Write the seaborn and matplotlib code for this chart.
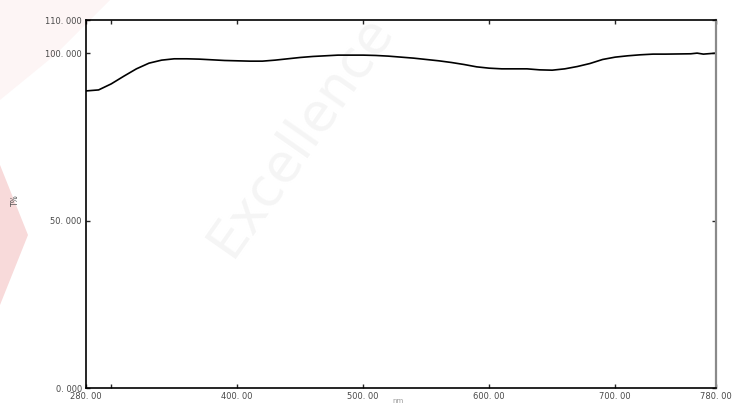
import matplotlib
matplotlib.use("Agg")
import matplotlib.pyplot as plt
from matplotlib.patches import Polygon
import seaborn as sns
import pandas as pd

# Transmittance spectrum (wavelength in nm, T in %)
wavelength = [280, 290, 300, 310, 320, 330, 340, 350, 360, 370, 380, 390, 400,
              410, 420, 430, 440, 450, 460, 470, 480, 490, 500, 510, 520, 530,
              540, 550, 560, 570, 580, 590, 600, 610, 620, 630, 640, 650, 660,
              670, 680, 690, 700, 710, 720, 730, 740, 750, 760, 765, 770, 780]
transmittance = [88.8, 89.1, 90.9, 93.2, 95.4, 97.1, 98.0, 98.4, 98.4, 98.3,
                 98.1, 97.9, 97.8, 97.7, 97.7, 98.0, 98.4, 98.8, 99.1, 99.3,
                 99.5, 99.5, 99.5, 99.4, 99.2, 98.9, 98.6, 98.2, 97.8, 97.3,
                 96.7, 96.0, 95.6, 95.4, 95.4, 95.4, 95.1, 95.0, 95.4, 96.1,
                 97.0, 98.2, 98.9, 99.3, 99.6, 99.8, 99.8, 99.85, 99.9, 100.1,
                 99.8, 100.1]

x_ticks = [280, 300, 400, 500, 600, 700, 780]
x_labels = ["280. 00", "", "400. 00", "500. 00", "600. 00", "700. 00", "780. 00"]
y_ticks = [0, 50, 100, 110]
y_labels = ["0. 000", "50. 000", "100. 000", "110. 000"]

df = pd.DataFrame({"nm": wavelength, "T%": transmittance})

sns.set_style("ticks")
plt.rcParams["font.family"] = ["DejaVu Sans"]

W, H = 732, 405
fig = plt.figure(figsize=(W / 100, H / 100), dpi=100)

# faint background logo marks
fig.text(300 / W, 1 - 135 / H, "Excellence", rotation=55, fontsize=38,
         color="#f5f5f5", ha="center", va="center", zorder=0)
wedge = Polygon([(0, 1 - 165 / H), (28 / W, 1 - 235 / H), (0, 1 - 305 / H)],
                closed=True, transform=fig.transFigure, facecolor="#f8dada",
                edgecolor="none", zorder=0)
fig.patches.append(wedge)
blob = Polygon([(0, 1), (110 / W, 1), (55 / W, 1 - 55 / H), (0, 1 - 100 / H)],
               closed=True, transform=fig.transFigure, facecolor="#fdf5f5",
               edgecolor="none", zorder=0)
fig.patches.append(blob)

ax = fig.add_axes([86 / W, 17 / H, (716 - 86) / W, (388 - 20) / H])
ax.set_zorder(2)
ax.patch.set_alpha(0)

sns.lineplot(data=df, x="nm", y="T%", ax=ax, color="black", linewidth=1.2)

ax.set_xlim(280, 780)
ax.set_ylim(0, 110)
ax.set_xticks(x_ticks)
ax.set_xticklabels(x_labels)
ax.set_yticks(y_ticks)
ax.set_yticklabels(y_labels)
ax.tick_params(direction="in", length=3, width=1, labelsize=6,
               labelcolor="#4a4a4a", top=True, right=True, pad=3)
ax.tick_params(axis="x", pad=3)
ax.set_xlabel("")
ax.set_ylabel("")

for side in ["left", "bottom", "top"]:
    ax.spines[side].set_visible(True)
    ax.spines[side].set_color("black")
    ax.spines[side].set_linewidth(1.2)
ax.spines["right"].set_visible(True)
ax.spines["right"].set_color("#8a8a8a")
ax.spines["right"].set_linewidth(1.6)

fig.text(15 / W, 1 - 200 / H, "T%", rotation=90, fontsize=5.5,
         color="#555555", ha="center", va="center")
fig.text(398 / W, 1 - 401 / H, "nm", fontsize=5, color="#999999",
         ha="center", va="center")

fig.savefig("out.png", dpi=100)
